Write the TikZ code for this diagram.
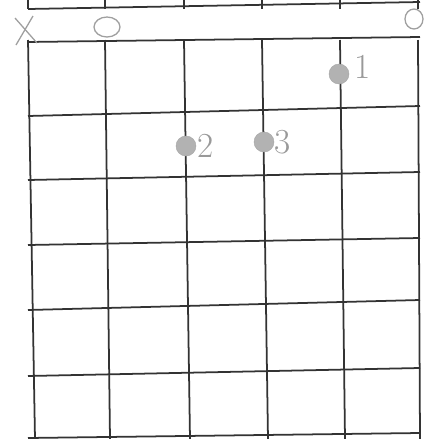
\documentclass[tikz,border=0pt]{standalone}
\usepackage{tikz}
\usetikzlibrary{positioning}

\tikzset{
  fret/.style={black!80, line width=1.5pt},
  dot/.style={circle, fill=gray!60, draw=gray!70, minimum size=0.6cm, inner sep=0pt},
  finger/.style={text=gray!80, font=\fontsize{30}{30}\selectfont, inner sep=0pt},
  openmark/.style={gray!75, line width=1.1pt}
}

\begin{document}
\begin{tikzpicture}[x=0.03cm, y=-0.03cm]
  \useasboundingbox (0,0) rectangle (425,439);
  % strip of the diagram above
  \draw[fret] (28,9) -- (420,2);
  \foreach \x in {28,105,184,262,340,418}
    \draw[fret] (\x,0) -- (\x,9);
  % frets
  \foreach \l/\r in {42/37,116/106,180/172,245/238,310/300,376/368,438/433}
    \draw[fret] (28,\l) -- (420,\r);
  % strings
  \foreach \t/\b in {28/35,105/110,184/190,262/268,340/345,418/420}
    \draw[fret] (\t,40) -- (\b,439);
  % muted and open strings
  \draw[openmark] (15,18) -- (37,43);
  \draw[openmark] (33,16) -- (16,45);
  \draw[openmark] (107,27) ellipse (13 and 10);
  \draw[openmark] (414,19) ellipse (9 and 10);
  % fingers
  \node[dot] (d1) at (339,74) {};
  \node[dot] (d2) at (186,146) {};
  \node[dot] (d3) at (264,142) {};
  \node[finger, right=4pt of d1, yshift=6pt] (f1) {1};
  \node[finger, right=1pt of d2] (f2) {2};
  \node[finger, right=0pt of d3] (f3) {3};
\end{tikzpicture}
\end{document}
